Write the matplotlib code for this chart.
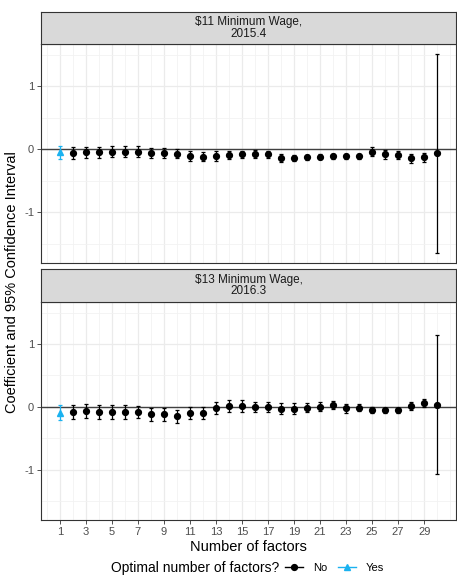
import numpy as np
import matplotlib.pyplot as plt
from matplotlib.lines import Line2D

plt.rcParams['font.family'] = ['Liberation Sans', 'DejaVu Sans']
plt.rcParams['axes.unicode_minus'] = False

factors = list(range(1, 31))
optimal = 1

panel_titles = ["$11 Minimum Wage,\n2015.4", "$13 Minimum Wage,\n2016.3"]

est_11 = [-0.05, -0.06, -0.05, -0.05, -0.04, -0.04, -0.04, -0.06, -0.06, -0.07,
          -0.11, -0.12, -0.11, -0.09, -0.08, -0.075, -0.08, -0.14, -0.14, -0.13,
          -0.12, -0.11, -0.11, -0.11, -0.04, -0.08, -0.09, -0.14, -0.13, -0.065]
moe_11 = [0.10, 0.10, 0.09, 0.09, 0.09, 0.09, 0.085, 0.085, 0.08, 0.07,
          0.08, 0.07, 0.08, 0.07, 0.06, 0.06, 0.06, 0.06, 0.05, 0.04,
          0.04, 0.04, 0.04, 0.04, 0.07, 0.07, 0.07, 0.07, 0.07, 1.575]

est_13 = [-0.09, -0.085, -0.07, -0.08, -0.08, -0.08, -0.08, -0.12, -0.12, -0.15,
          -0.10, -0.10, -0.02, 0.01, 0.01, 0.005, 0.005, -0.03, -0.03, -0.01,
          0.005, 0.03, -0.02, -0.015, -0.05, -0.05, -0.05, 0.02, 0.06, 0.035]
moe_13 = [0.12, 0.115, 0.11, 0.11, 0.105, 0.105, 0.10, 0.10, 0.10, 0.10,
          0.095, 0.095, 0.10, 0.095, 0.095, 0.08, 0.08, 0.085, 0.085, 0.075,
          0.075, 0.065, 0.07, 0.055, 0.05, 0.04, 0.04, 0.065, 0.065, 1.105]

x_breaks = list(range(1, 30, 2))
y_breaks = [-1, 0, 1]

BLUE = "#1AB2F0"
W, H = 457, 577


def box(l, t, r, b):
    # pixel box -> figure fraction rect
    return [l / W, 1 - b / H, (r - l) / W, (b - t) / H]


fig = plt.figure(figsize=(W / 100, H / 100), dpi=100)

all_lo = [e - m for e, m in zip(est_11 + est_13, moe_11 + moe_13)]
all_hi = [e + m for e, m in zip(est_11 + est_13, moe_11 + moe_13)]
span = max(all_hi) - min(all_lo)
ylim = (min(all_lo) - 0.05 * span, max(all_hi) + 0.05 * span)
xlim = (1 - 0.05 * 29, 30 + 0.05 * 29)

layout = [(12, 44, 262.7), (269, 302, 520)]

for i, (est, moe) in enumerate([(est_11, moe_11), (est_13, moe_13)]):
    s_top, p_top, p_bot = layout[i]
    ax = fig.add_axes(box(41, p_top, 456, p_bot))
    strip = fig.add_axes(box(41, s_top, 456, p_top))
    strip.set_facecolor("#D9D9D9")
    strip.set_xticks([])
    strip.set_yticks([])
    for sp in strip.spines.values():
        sp.set_color("#333333")
        sp.set_linewidth(0.8)
    strip.text(0.5, 0.5, panel_titles[i], ha="center", va="center",
               fontsize=8.5, color="#1A1A1A", linespacing=1.0,
               transform=strip.transAxes)

    ax.set_xlim(xlim)
    ax.set_ylim(ylim)
    ax.set_xticks(x_breaks)
    ax.set_xticks(range(0, 32), minor=True)
    ax.set_yticks(y_breaks)
    ax.set_yticks([-1.5, -0.5, 0.5, 1.5], minor=True)
    ax.grid(which="major", color="#EBEBEB", linewidth=0.9)
    ax.grid(which="minor", color="#F2F2F2", linewidth=0.6)
    ax.set_axisbelow(True)
    ax.tick_params(which="minor", length=0)
    ax.tick_params(which="major", length=3, width=0.6, color="#333333",
                   labelcolor="#4D4D4D", labelsize=8, pad=2)
    for sp in ax.spines.values():
        sp.set_color("#333333")
        sp.set_linewidth(0.8)
    if i == 0:
        ax.tick_params(axis="x", length=0, labelbottom=False)
    else:
        ax.set_xlabel("Number of factors", fontsize=10.5, labelpad=2)

    ax.axhline(0, color="#404040", linewidth=1.0, zorder=1)

    x = np.array(factors)
    est = np.array(est)
    moe = np.array(moe)
    no = x != optimal
    ax.errorbar(x[no], est[no], yerr=moe[no], fmt="o", color="black",
                markersize=4.2, elinewidth=0.9, capsize=1.5, capthick=0.9,
                zorder=3)
    ax.errorbar(x[~no], est[~no], yerr=moe[~no], fmt="^", color=BLUE,
                markersize=4.6, elinewidth=0.9, capsize=1.5, capthick=0.9,
                zorder=3)

fig.text(12 / W, 1 - 282 / H, "Coefficient and 95% Confidence Interval",
         rotation=90, ha="center", va="center", fontsize=10.5)

fig.text(279 / W, 1 - 568 / H, "Optimal number of factors?", ha="right",
         va="center", fontsize=10)
handles = [Line2D([], [], color="black", marker="o", markersize=4.2, lw=1),
           Line2D([], [], color=BLUE, marker="^", markersize=4.6, lw=1)]
fig.legend(handles, ["No", "Yes"], loc="center left",
           bbox_to_anchor=(285 / W, 1 - 568 / H), ncol=2, frameon=False,
           fontsize=8, handlelength=1.6, handletextpad=0.9, columnspacing=1.0,
           borderaxespad=0, borderpad=0)

fig.savefig("out.png", dpi=100)
